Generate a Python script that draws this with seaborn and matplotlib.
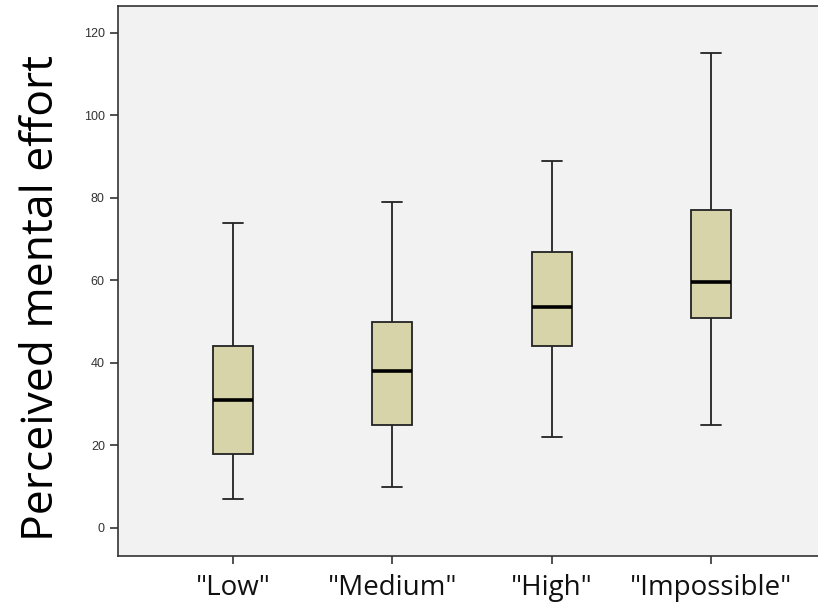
import numpy as np
import pandas as pd
import matplotlib
matplotlib.use("Agg")
import matplotlib.pyplot as plt
import seaborn as sns

# five-number summaries: min, Q1, median, Q3, max
categories = ['"Low"', '"Medium"', '"High"', '"Impossible"']
low = [7, 18, 31, 44, 74]
medium = [10, 25, 38, 50, 79]
high = [22, 44, 53.5, 67, 89]
impossible = [25, 51, 59.5, 77, 115]
y_ticks = [0, 20, 40, 60, 80, 100, 120]

df = pd.DataFrame({
    "level": np.repeat(categories, 5),
    "effort": low + medium + high + impossible,
})

sns.set_style("white")
fig = plt.figure(figsize=(8.18, 6.05), dpi=100)
ax = fig.add_axes([0.1443, 0.081, 0.8557, 0.909])
ax.set_facecolor("#f2f2f2")

sns.boxplot(data=df, x="level", y="effort", order=categories, ax=ax,
            width=0.25, whis=(0, 100), color="#d8d4a9", saturation=1,
            linecolor="#222222", linewidth=1.3,
            medianprops={"color": "black", "linewidth": 2.6},
            capwidths=0.125)

ax.set_xlim(-0.722, 3.672)
ax.set_ylim(-6.8, 126.5)
ax.set_yticks(y_ticks)
ax.set_yticklabels([str(t) for t in y_ticks], fontsize=9, color="#333333",
                   family="Liberation Sans")
ax.set_xticklabels(categories, fontsize=20, family="Open Sans", color="#111111")
ax.tick_params(axis="both", direction="out", length=6, width=1.2, color="#333333",
               left=True, bottom=True)
ax.tick_params(axis="x", pad=7)
ax.set_xlabel("")
ax.set_ylabel("Perceived mental effort", fontsize=32, family="Open Sans",
              color="black")
ax.yaxis.label.set_verticalalignment("baseline")
ax.yaxis.set_label_coords(-0.093, 0.469)

for side in ["left", "bottom", "top"]:
    ax.spines[side].set_color("#333333")
    ax.spines[side].set_linewidth(1.2)
ax.spines["right"].set_visible(False)

fig.savefig("out.png", dpi=100)
